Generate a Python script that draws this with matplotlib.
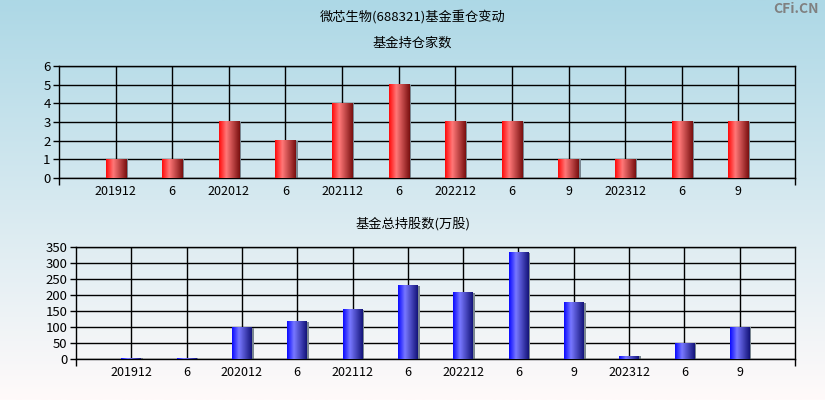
import numpy as np
import matplotlib
matplotlib.use("Agg")
import matplotlib.pyplot as plt
from matplotlib.colors import LinearSegmentedColormap

plt.rcParams['font.family'] = ['Noto Sans CJK SC', 'DejaVu Sans']

labels = ["201912", "6", "202012", "6", "202112", "6", "202212", "6", "9", "202312", "6", "9"]
fund_count = [1, 1, 3, 2, 4, 5, 3, 3, 1, 1, 3, 3]
total_shares = [3, 3, 98, 117, 154, 229, 207, 332, 176, 8, 49, 99]

red_cmap = LinearSegmentedColormap.from_list(
    "r", [(0, "#ff0a0a"), (0.35, "#ff7878"), (1, "#7a1010")])
blue_cmap = LinearSegmentedColormap.from_list(
    "b", [(0, "#0a0aff"), (0.35, "#7878ff"), (1, "#14147a")])


def draw_bars(ax, values, cmap, ymax, yticks):
    x = np.arange(1, len(values) + 1)
    w = 0.355
    grad = np.linspace(0, 1, 64).reshape(1, -1)
    # grey shadow at right edge
    ax.bar(x + w / 2 + 0.018, values, 0.036, color="#7a8690", zorder=2)
    for xi, v in zip(x, values):
        ax.imshow(grad, cmap=cmap, aspect="auto", zorder=3,
                  extent=[xi - w / 2, xi + w / 2, 0, v], interpolation="bilinear")
    ax.set_xlim(0, len(values) + 1)
    ax.set_ylim(0, ymax)
    ax.set_facecolor("none")
    ax.set_axisbelow(True)
    ax.set_xticks(x)
    ax.set_xticklabels(labels, fontsize=9)
    ax.set_xticks([0, len(values) + 1], minor=True)
    ax.set_yticks(yticks)
    ax.tick_params(axis="x", which="major", length=0, pad=5)
    ax.tick_params(axis="x", which="minor", length=5, width=1)
    ax.tick_params(axis="y", length=4, width=1, pad=2, labelsize=9.5)
    ax.grid(True, color="black", linewidth=1.0)
    for s in ax.spines.values():
        s.set_linewidth(1.0)


fig = plt.figure(figsize=(8.25, 4), dpi=100)

bg = fig.add_axes([0, 0, 1, 1], zorder=-1)
top = np.array([173, 216, 230]) / 255
bot = np.array([255, 250, 250]) / 255
t = np.linspace(0, 1, 256).reshape(-1, 1, 1)
bg.imshow(top + (bot - top) * t, aspect="auto", extent=[0, 1, 0, 1])
bg.axis("off")

fig.text(0.5, 0.955, "微芯生物(688321)基金重仓变动", ha="center", va="center", fontsize=9.5)
fig.text(0.5, 0.893, "基金持仓家数", ha="center", va="center", fontsize=9.5)
fig.text(0.5, 0.44, "基金总持股数(万股)", ha="center", va="center", fontsize=9.5)
fig.text(0.992, 0.978, "CFi.CN", ha="right", va="center", fontsize=10,
         color="#808080", fontweight="bold")

ax1 = fig.add_axes([0.0715, 0.555, 0.8921, 0.28])
draw_bars(ax1, fund_count, red_cmap, 6, range(0, 7))

ax2 = fig.add_axes([0.0921, 0.1025, 0.8715, 0.28])
draw_bars(ax2, total_shares, blue_cmap, 350, range(0, 351, 50))

fig.savefig("out.png", dpi=100)
